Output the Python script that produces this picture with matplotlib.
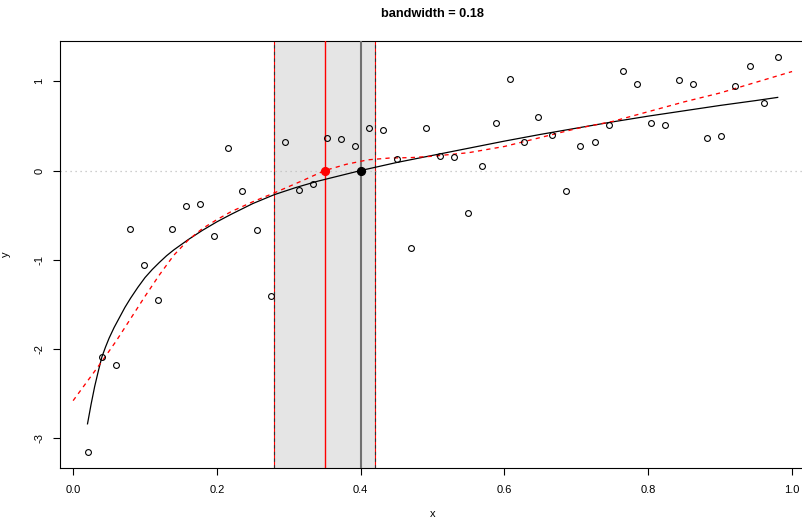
import numpy as np
import matplotlib
matplotlib.use("Agg")
import matplotlib.pyplot as plt

plt.rcParams["font.family"] = ["Liberation Sans", "DejaVu Sans"]
plt.rcParams["axes.unicode_minus"] = False

# Observations
x_obs = [0.0200, 0.0396, 0.0592, 0.0788, 0.0984, 0.1180, 0.1376, 0.1571, 0.1767, 0.1963,
         0.2159, 0.2355, 0.2551, 0.2747, 0.2943, 0.3139, 0.3335, 0.3531, 0.3727, 0.3922,
         0.4118, 0.4314, 0.4510, 0.4706, 0.4902, 0.5098, 0.5294, 0.5490, 0.5686, 0.5882,
         0.6078, 0.6273, 0.6469, 0.6665, 0.6861, 0.7057, 0.7253, 0.7449, 0.7645, 0.7841,
         0.8037, 0.8233, 0.8429, 0.8624, 0.8820, 0.9016, 0.9212, 0.9408, 0.9604, 0.9800]
y_obs = [-3.16, -2.09, -2.18, -0.66, -1.06, -1.455, -0.66, -0.40, -0.38, -0.73,
         0.255, -0.23, -0.67, -1.41, 0.316, -0.22, -0.155, 0.368, 0.353, 0.278,
         0.48, 0.45, 0.132, -0.865, 0.473, 0.166, 0.151, -0.476, 0.05, 0.529,
         1.03, 0.323, 0.60, 0.40, -0.23, 0.278, 0.316, 0.507, 1.115, 0.973,
         0.532, 0.514, 1.015, 0.97, 0.368, 0.383, 0.947, 1.17, 0.753, 1.276]

# True mean curve (solid black)
x_true = [0.02, 0.025, 0.03, 0.035, 0.04, 0.045, 0.05, 0.057, 0.065, 0.072, 0.08, 0.09,
          0.10, 0.11, 0.12, 0.13, 0.14, 0.16, 0.18, 0.20, 0.22, 0.25, 0.28, 0.31, 0.34,
          0.37, 0.40, 0.45, 0.50, 0.55, 0.60, 0.65, 0.70, 0.75, 0.80, 0.85, 0.90, 0.95,
          0.98]
y_true = [-2.84, -2.62, -2.42, -2.25, -2.09, -1.98, -1.88, -1.76, -1.64, -1.535, -1.43,
          -1.31, -1.20, -1.11, -1.03, -0.955, -0.89, -0.775, -0.67, -0.575, -0.49, -0.37,
          -0.27, -0.19, -0.12, -0.06, 0.0, 0.09, 0.17, 0.25, 0.33, 0.405, 0.475, 0.545,
          0.61, 0.67, 0.73, 0.785, 0.82]

# Kernel smooth (dashed red)
x_fit = [0.00, 0.02, 0.04, 0.06, 0.08, 0.10, 0.12, 0.14, 0.16, 0.18, 0.20, 0.22, 0.25,
         0.28, 0.30, 0.32, 0.35, 0.38, 0.41, 0.44, 0.47, 0.50, 0.55, 0.60, 0.65, 0.70,
         0.75, 0.80, 0.85, 0.90, 0.95, 1.00]
y_fit = [-2.58, -2.36, -2.14, -1.91, -1.66, -1.41, -1.17, -0.95, -0.78, -0.65, -0.55,
         -0.46, -0.35, -0.25, -0.18, -0.11, 0.0, 0.07, 0.12, 0.14, 0.145, 0.16, 0.20,
         0.27, 0.37, 0.47, 0.55, 0.66, 0.77, 0.87, 0.99, 1.11]

x_true_root = 0.40      # where the true curve crosses zero
x_fit_root = 0.35       # where the smooth crosses zero
interval = (0.28, 0.42)
bandwidth = 0.18

x_ticks = [0.0, 0.2, 0.4, 0.6, 0.8, 1.0]
y_ticks = [-3, -2, -1, 0, 1]

W, H = 803, 521
fig = plt.figure(figsize=(W / 100, H / 100), dpi=100)
left_px, right_px, top_px, bottom_px = 59.9, 805.3, 40.9, 468.2
ax = fig.add_axes([left_px / W, 1 - bottom_px / H,
                   (right_px - left_px) / W, (bottom_px - top_px) / H])

xr = max(x_obs) - min(x_obs)
yr = max(y_obs) - min(y_obs)
ax.set_xlim(min(x_obs) - 0.04 * xr, max(x_obs) + 0.04 * xr)
ax.set_ylim(min(y_obs) - 0.04 * yr, max(y_obs) + 0.04 * yr)

# interval band
ax.axvspan(interval[0], interval[1], color="#e5e5e5", lw=0, zorder=1)
for xv in interval:
    ax.axvline(xv, color="red", lw=0.8, zorder=2)
    ax.axvline(xv, color="#333333", lw=0.8, ls=(0, (3, 3)), zorder=2.1)

ax.axhline(0, color="#bebebe", lw=0.9, ls=(0, (1, 3)), zorder=2)

ax.axvline(x_fit_root, color="#ff0000", lw=1.0, zorder=3)
ax.axvline(x_true_root, color="#707070", lw=1.5, zorder=3)

ax.plot(x_true, y_true, color="black", lw=0.9, zorder=4)
ax.plot(x_fit, y_fit, color="red", lw=0.95, ls=(0, (3.2, 3.2)), zorder=4)

ax.plot(x_obs, y_obs, ls="none", marker="o", ms=4.2, mfc="none", mec="black",
        mew=0.8, zorder=5)

ax.plot([x_fit_root], [0], marker="o", ms=5.6, color="red", zorder=6)
ax.plot([x_true_root], [0], marker="o", ms=5.6, color="black", zorder=6)

ax.set_xticks(x_ticks)
ax.set_xticklabels([f"{v:.1f}" for v in x_ticks])
ax.set_yticks(y_ticks)
ax.set_yticklabels([str(v) for v in y_ticks], rotation=90, va="center")
ax.tick_params(axis="both", direction="out", length=5.2, width=0.8, labelsize=8,
               color="black")
ax.tick_params(axis="x", pad=7)
ax.tick_params(axis="y", pad=6)
for s in ax.spines.values():
    s.set_linewidth(0.8)
    s.set_color("black")

ax.set_xlabel("x", fontsize=8, labelpad=10)
ax.set_ylabel("y", fontsize=8, labelpad=17)

fig.text((left_px + right_px) / 2 / W, 1 - 14 / H, f"bandwidth = {bandwidth}",
         ha="center", va="center", fontsize=9.2, fontweight="bold")

fig.savefig("out.png", dpi=100)
